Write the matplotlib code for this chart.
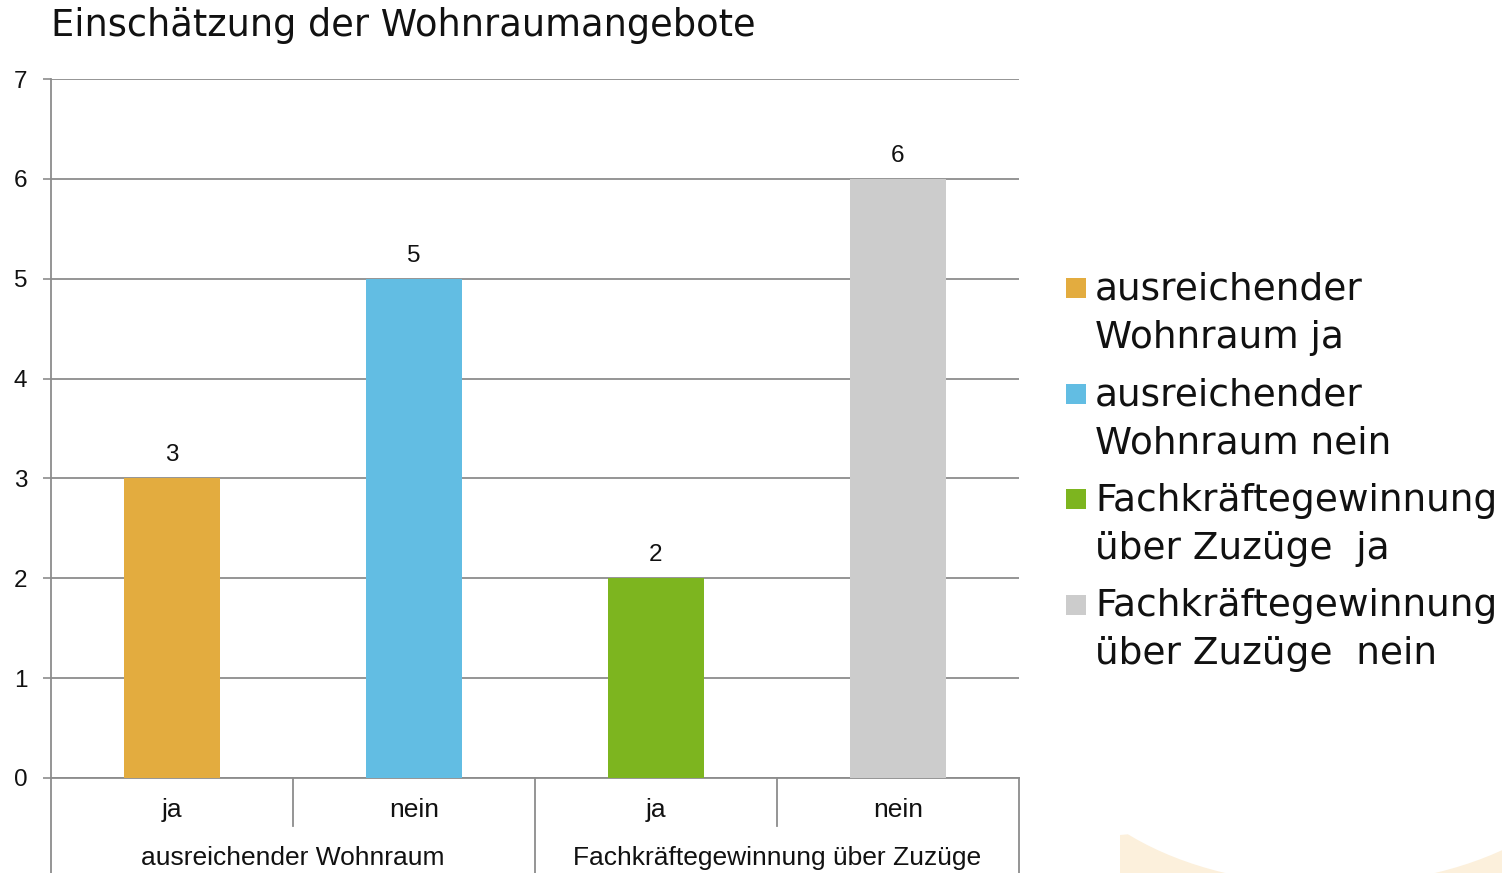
import matplotlib
matplotlib.use("Agg")
import matplotlib.pyplot as plt
from matplotlib.patches import Ellipse, Polygon, Rectangle
import matplotlib.transforms as mtransforms

# data
groups = ["ausreichender Wohnraum", "Fachkräftegewinnung über Zuzüge"]
answers = ["ja", "nein", "ja", "nein"]
values = [3, 5, 2, 6]
legend_labels = ["ausreichender\nWohnraum ja", "ausreichender\nWohnraum nein",
                 "Fachkräftegewinnung\nüber Zuzüge  ja", "Fachkräftegewinnung\nüber Zuzüge  nein"]
colors = ["#E3AC3F", "#62BDE3", "#7DB51F", "#CCCCCC"]

W, H = 1502, 873
fig = plt.figure(figsize=(W / 100, H / 100), dpi=100)
fig.patch.set_facecolor("white")

# background layer in pixel coords (swoosh + legend)
deco = fig.add_axes([0, 0, 1, 1], zorder=0)
deco.set_xlim(0, W)
deco.set_ylim(H, 0)
deco.axis("off")
deco.add_patch(Polygon([(1120, 835), (1502, 800), (1502, 873), (1120, 873)],
                       closed=True, color="#FCF0DC", lw=0))
deco.add_patch(Ellipse((1330, 720), 560, 330, color="white", lw=0))

ax = fig.add_axes([51 / W, 1 - 778 / H, 968 / W, 699 / H], zorder=1)
ax.patch.set_alpha(0)
x = list(range(len(values)))
bars = ax.bar(x, values, width=0.4, color=colors, zorder=3)

for xi, v in zip(x, values):
    ax.text(xi, v + 0.17, str(v), ha="center", va="baseline", fontsize=17.5,
            family="Liberation Sans", color="#111111")

ax.set_xlim(-0.5, len(values) - 0.5)
ax.set_ylim(0, 7)
ax.set_yticks(range(0, 8))
ax.yaxis.grid(True, color="#8C8C8C", linewidth=1.3, zorder=0)
ax.set_axisbelow(True)
ax.tick_params(axis="y", length=6, width=1.2, color="#8C8C8C", pad=11,
               labelsize=17.5, labelcolor="#111111")
for lab in ax.get_yticklabels():
    lab.set_family("Liberation Sans")
ax.set_xticks([])
for s in ["top", "right"]:
    ax.spines[s].set_visible(False)
for s in ["left", "bottom"]:
    ax.spines[s].set_color("#8C8C8C")
    ax.spines[s].set_linewidth(1.3)

# two-level category axis
trans = mtransforms.blended_transform_factory(ax.transData, ax.transAxes)
for xi, a in zip(x, answers):
    ax.text(xi, -32 / 699, a, transform=trans, ha="center", va="center",
            fontsize=19, family="Liberation Sans", color="#111111")
for i in range(len(values) + 1):
    bx = i - 0.5
    y_end = -95 / 699 if i % 2 == 0 else -48 / 699
    ax.plot([bx, bx], [0, y_end], transform=trans, color="#8C8C8C",
            lw=1.3, clip_on=False)
for gi, g in enumerate(groups):
    ax.text(gi * 2 + 0.5, -80 / 699, g, transform=trans, ha="center", va="center",
            fontsize=19, family="Liberation Sans", color="#111111")

fig.text(51 / W, 1 - 26 / H, "Einschätzung der Wohnraumangebote", ha="left",
         va="center", fontsize=26.5, family="DejaVu Sans", color="#111111")

# legend drawn by hand: square at first line, two-line label
for i, (c, lab) in enumerate(zip(colors, legend_labels)):
    y0 = 288 + i * 105.5
    deco.add_patch(Rectangle((1066, y0 - 10), 20, 20, color=c, lw=0))
    deco.text(1095, y0 - 16, lab, ha="left", va="top", fontsize=27,
              family="DejaVu Sans", color="#111111", linespacing=1.42)

fig.savefig("out.png", dpi=100)
